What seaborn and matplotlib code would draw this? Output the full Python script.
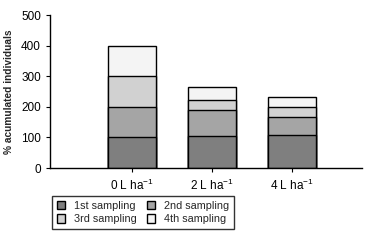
import numpy as np
import pandas as pd
import seaborn as sns
import matplotlib.pyplot as plt

doses = ["0 L ha$^{-1}$", "2 L ha$^{-1}$", "4 L ha$^{-1}$"]
samplings = ["1st sampling", "2nd sampling", "3rd sampling", "4th sampling"]
first = [100, 104, 108]
second = [100, 87, 58]
third = [100, 31, 33]
fourth = [100, 42, 33]
colors = ["#7f7f7f", "#a5a5a5", "#d1d1d1", "#f4f4f4"]

sns.set_style("ticks")
plt.rcParams['font.family'] = ['Liberation Sans Narrow', 'Liberation Sans', 'DejaVu Sans']
plt.rcParams['mathtext.default'] = 'regular'

layers = np.cumsum(np.array([first, second, third, fourth]), axis=0)

fig = plt.figure(figsize=(3.77, 2.43), dpi=100)
ax = fig.add_axes([0.1326, 0.3086, 0.8274, 0.6294])

# draw cumulative totals from the top layer down so each one covers the next
for i in range(3, -1, -1):
    df = pd.DataFrame({"dose": doses, "value": layers[i]})
    sns.barplot(data=df, x="dose", y="value", color=colors[i], width=0.6,
                edgecolor="black", linewidth=1.0, saturation=1, ax=ax,
                label=samplings[i])

ax.set_ylim(0, 500)
ax.set_yticks([0, 100, 200, 300, 400, 500])
ax.set_xlim(-1.025, 2.875)
ax.set_xlabel("")
ax.set_ylabel("% acumulated individuals", fontsize=7.3, fontweight="bold", labelpad=5)
ax.tick_params(axis="both", labelsize=8.5, length=3, width=0.8, colors="black")
ax.tick_params(axis="x", pad=4)
for s in ["left", "bottom"]:
    ax.spines[s].set_linewidth(1.0)
    ax.spines[s].set_color("black")
sns.despine(ax=ax)

# legend is filled row by row in the reference
handles, labels = ax.get_legend_handles_labels()
legend_order = ["1st sampling", "3rd sampling", "2nd sampling", "4th sampling"]
idx = [labels.index(s) for s in legend_order]
leg = ax.legend([handles[k] for k in idx], legend_order, ncol=2, fontsize=7.8,
                loc="upper left", bbox_to_anchor=(0.006, -0.183), frameon=True,
                fancybox=False, edgecolor="black", handlelength=0.8,
                handleheight=0.8, columnspacing=0.9, handletextpad=0.8,
                borderpad=0.45, labelspacing=0.3, borderaxespad=0)
leg.get_frame().set_linewidth(1.0)

fig.savefig("out.png", dpi=100)
